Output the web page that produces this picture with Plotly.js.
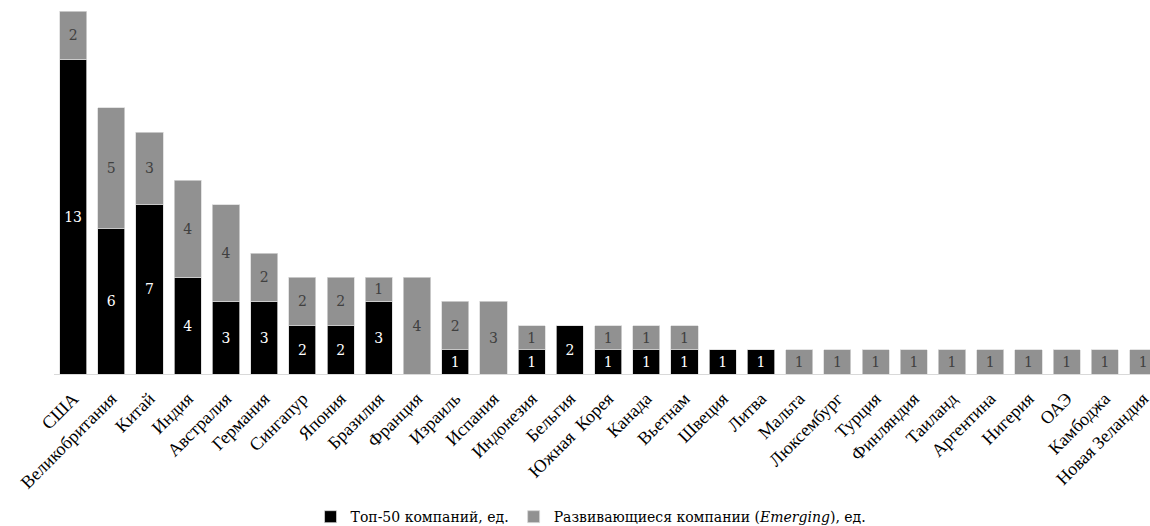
<!DOCTYPE html>
<html>
<head>
<meta charset="utf-8">
<script src="https://cdn.plot.ly/plotly-3.0.1.min.js"></script>
<style>html,body{margin:0;padding:0;background:#fff;}#chart{width:1150px;height:526px;}</style>
</head>
<body>
<div id="chart"></div>
<script>
const countries = ["США","Великобритания","Китай","Индия","Австралия","Германия","Сингапур","Япония","Бразилия","Франция","Израиль","Испания","Индонезия","Бельгия","Южная  Корея","Канада","Вьетнам","Швеция","Литва","Мальта","Люксембург","Турция","Финляндия","Таиланд","Аргентина","Нигерия","ОАЭ","Камбоджа","Новая Зеландия"];
const top50 = [13,6,7,4,3,3,2,2,3,0,1,0,1,2,1,1,1,1,1,0,0,0,0,0,0,0,0,0,0];
const emerging = [2,5,3,4,4,2,2,2,1,4,2,3,1,0,1,1,1,0,0,1,1,1,1,1,1,1,1,1,1];

function lbl(a){return a.map(v => v > 0 ? String(v) : '');}
function val(a){return a.map(v => v > 0 ? v : null);}

const traces = [
  {
    type:'bar', name:'Топ-50 компаний, ед.', x:countries, y:val(top50),
    text:lbl(top50), textposition:'inside', insidetextanchor:'middle',
    textfont:{family:'DejaVu Serif, serif', size:14, color:'#ffffff'},
    marker:{color:'#000000', line:{color:'#d9d9d9', width:0.75}},
    hoverinfo:'x+y'
  },
  {
    type:'bar', name:'Развивающиеся компании (<i>Emerging</i>), ед.', x:countries, y:val(emerging),
    text:lbl(emerging), textposition:'inside', insidetextanchor:'middle',
    textfont:{family:'DejaVu Serif, serif', size:14, color:'#404040'},
    marker:{color:'#919191', line:{color:'#d9d9d9', width:0.75}},
    hoverinfo:'x+y'
  }
];

const layout = {
  width:1150, height:526,
  margin:{l:54, r:0, t:11, b:152, autoexpand:false},
  barmode:'stack', bargap:0.29,
  paper_bgcolor:'#fff', plot_bgcolor:'#fff',
  font:{family:'Liberation Serif, serif', size:14, color:'#000'},
  xaxis:{
    type:'category', range:[-0.5, 28.18], tickangle:-45,
    showline:true, linecolor:'#d9d9d9', linewidth:1,
    ticks:'', showgrid:false, zeroline:false, fixedrange:true,
    ticklabelstandoff:6, automargin:false,
    tickfont:{family:'Liberation Serif, serif', size:18, color:'#000'}
  },
  yaxis:{
    range:[0,15], visible:false, showgrid:false, zeroline:false, fixedrange:true
  },
  showlegend:true,
  legend:{
    orientation:'h', x:0.49, xanchor:'center',
    yref:'container', y:0.017, yanchor:'middle',
    font:{family:'DejaVu Serif, serif', size:14, color:'#000'},
    itemwidth:30, traceorder:'normal'
  }
};

Plotly.newPlot('chart', traces, layout, {displayModeBar:false, staticPlot:true});
</script>
</body>
</html>
